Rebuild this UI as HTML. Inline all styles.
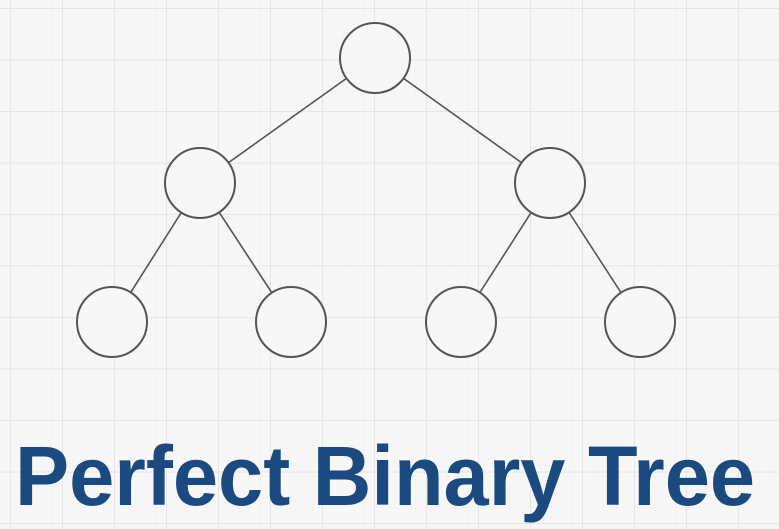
<!DOCTYPE html>
<html><head><style>
html,body{margin:0;padding:0;width:779px;height:529px;overflow:hidden;background:#f7f7f7}
</style></head><body>
<svg width="779" height="529" xmlns="http://www.w3.org/2000/svg">
<defs>
<pattern id="s" width="10.4" height="10.4" patternUnits="userSpaceOnUse" x="10" y="8">
<path d="M0 0H10.4M0 0V10.4" stroke="#ebebeb" stroke-width="0.6" fill="none"/>
</pattern>
<pattern id="g" width="52" height="51.5" patternUnits="userSpaceOnUse" x="10" y="8">
<path d="M0 0H52M0 0V51.5" stroke="#e6e6e6" stroke-width="2" fill="none"/>
</pattern>
</defs>
<rect width="779" height="529" fill="#f7f7f7"/>
<rect width="779" height="529" fill="url(#s)"/>
<rect width="779" height="529" fill="url(#g)"/>
<g stroke="#555" stroke-width="1.6" fill="none">
<line x1="375" y1="58" x2="200" y2="183"/>
<line x1="375" y1="58" x2="550" y2="183"/>
<line x1="200" y1="183" x2="112" y2="322"/>
<line x1="200" y1="183" x2="291" y2="322"/>
<line x1="550" y1="183" x2="461" y2="322"/>
<line x1="550" y1="183" x2="640" y2="322"/>
</g>
<g stroke="#555" stroke-width="2" fill="#f7f7f7">
<circle cx="375" cy="58" r="35"/>
<circle cx="200" cy="183" r="35"/>
<circle cx="550" cy="183" r="35"/>
<circle cx="112" cy="322" r="35"/>
<circle cx="291" cy="322" r="35"/>
<circle cx="461" cy="322" r="35"/>
<circle cx="640" cy="322" r="35"/>
</g>
<text x="15" y="505" font-family="Liberation Sans, sans-serif" font-weight="bold" font-size="84" fill="#1b4a80" textLength="740" lengthAdjust="spacingAndGlyphs">Perfect Binary Tree</text>
</svg>
</body></html>
